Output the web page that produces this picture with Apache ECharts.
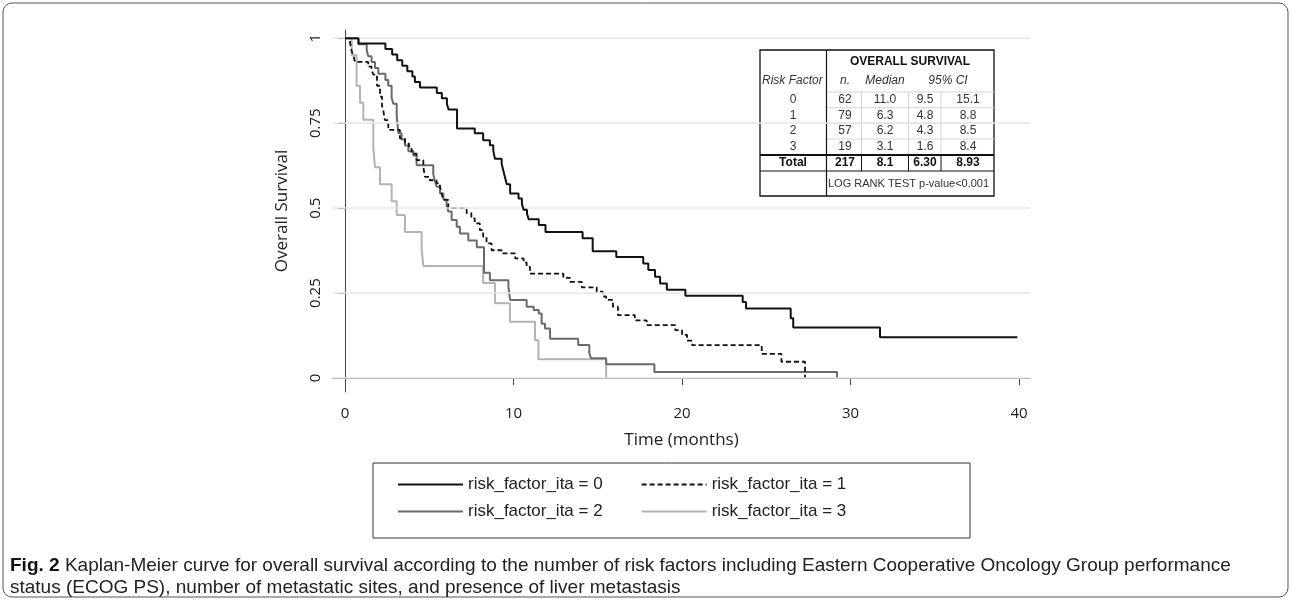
<!doctype html>
<html>
<head>
    <meta charset="UTF-8">
    <title>km_overall_survival</title>
    <script src="https://cdn.jsdelivr.net/npm/echarts@6/dist/echarts.min.js"></script>
    <style>
        html, body { margin: 0; padding: 0; background: #fff; }
        #main { width: 1292px; height: 599px; }
    </style>
</head>
<body>
<div id="main"></div>
<script>
    // axis ticks
    var xTicks = [0, 10, 20, 30, 40];
    var yTicks = [0, 0.25, 0.5, 0.75, 1];

    var seriesNames = ['risk_factor_ita = 0', 'risk_factor_ita = 1', 'risk_factor_ita = 2', 'risk_factor_ita = 3'];

    // [time in months, survival after the step]
    var risk0 = [[0, 1], [0.8, 0.984], [2.4, 0.968], [2.8, 0.952], [3.1, 0.935], [3.4, 0.919], [3.7, 0.903],
        [4.0, 0.887], [4.15, 0.871], [4.45, 0.855], [5.45, 0.839], [5.75, 0.823], [6.05, 0.806], [6.15, 0.79],
        [6.65, 0.734], [7.7, 0.72], [8.2, 0.70], [8.6, 0.685], [8.8, 0.67], [8.9, 0.645], [9.3, 0.63],
        [9.4, 0.61], [9.5, 0.59], [9.6, 0.57], [9.8, 0.543], [10.3, 0.528], [10.5, 0.512], [10.6, 0.495],
        [10.8, 0.484], [10.9, 0.467], [11.5, 0.45], [11.9, 0.43], [14.1, 0.411], [14.7, 0.373], [16.1, 0.356],
        [17.7, 0.337], [18.0, 0.318], [18.4, 0.298], [18.7, 0.278], [19.1, 0.26], [20.2, 0.242], [23.6, 0.224],
        [23.8, 0.205], [26.45, 0.176], [26.6, 0.149], [31.75, 0.12], [39.9, 0.12]];
    var risk1 = [[0, 1], [0.3, 0.987], [0.4, 0.962], [0.5, 0.949], [0.59, 0.93], [1.38, 0.916], [1.58, 0.905],
        [1.68, 0.893], [1.9, 0.86], [2.08, 0.828], [2.2, 0.80], [2.27, 0.788], [2.37, 0.759], [2.57, 0.73],
        [3.26, 0.705], [3.56, 0.69], [3.8, 0.675], [3.96, 0.66], [4.25, 0.641], [4.65, 0.621], [4.75, 0.592],
        [5.04, 0.582], [5.44, 0.573], [5.64, 0.563], [5.75, 0.54], [5.84, 0.524], [6.13, 0.5], [7.22, 0.485],
        [7.5, 0.47], [7.7, 0.455], [8.0, 0.435], [8.2, 0.416], [8.4, 0.396], [8.7, 0.376], [9.3, 0.367],
        [10.1, 0.352], [10.6, 0.34], [10.78, 0.327], [10.98, 0.307], [12.96, 0.295], [13.35, 0.283],
        [14.05, 0.267], [14.94, 0.254], [15.3, 0.24], [15.5, 0.23], [15.9, 0.21], [16.2, 0.185], [17.2, 0.17],
        [17.9, 0.156], [19.6, 0.141], [20.0, 0.127], [20.3, 0.11], [20.6, 0.097], [24.73, 0.071],
        [25.9, 0.048], [27.3, 0.019], [27.3, 0]];
    var risk2 = [[0, 1], [0.8, 0.982], [1.29, 0.965], [1.38, 0.947], [1.58, 0.93], [1.78, 0.912], [1.98, 0.895],
        [2.4, 0.877], [2.57, 0.86], [2.77, 0.825], [2.87, 0.807], [3.07, 0.772], [3.17, 0.72], [3.36, 0.702],
        [3.56, 0.684], [3.76, 0.667], [4.06, 0.655], [4.25, 0.626], [5.24, 0.60], [5.34, 0.58], [5.44, 0.563],
        [5.64, 0.543], [5.84, 0.525], [6.03, 0.509], [6.13, 0.49], [6.33, 0.465], [6.63, 0.445], [6.82, 0.425],
        [7.32, 0.405], [7.82, 0.385], [8.25, 0.31], [8.6, 0.288], [9.7, 0.268], [9.8, 0.23], [10.78, 0.21],
        [11.2, 0.2], [11.5, 0.19], [11.67, 0.16], [11.87, 0.146], [12.17, 0.116], [13.84, 0.097],
        [14.5, 0.073], [14.6, 0.058], [15.5, 0.041], [18.36, 0.018], [29.2, 0.018], [29.2, 0]];
    var risk3 = [[0, 1], [0.4, 0.95], [0.69, 0.86], [0.89, 0.81], [1.09, 0.76], [1.68, 0.68], [1.78, 0.62],
        [2.08, 0.57], [2.77, 0.52], [3.07, 0.48], [3.56, 0.43], [4.55, 0.38], [4.65, 0.33], [8.2, 0.28],
        [8.9, 0.22], [9.79, 0.166], [11.28, 0.111], [11.48, 0.055], [15.5, 0.055], [15.5, 0]];

    // summary table
    var tableTitle = 'OVERALL SURVIVAL';
    var tableHead = ['Risk Factor', 'n.', 'Median', '95% CI'];
    var tableRows = [
        ['0', '62', '11.0', '9.5', '15.1'],
        ['1', '79', '6.3', '4.8', '8.8'],
        ['2', '57', '6.2', '4.3', '8.5'],
        ['3', '19', '3.1', '1.6', '8.4']
    ];
    var tableTotal = ['Total', '217', '8.1', '6.30', '8.93'];
    var logRankText = 'LOG RANK TEST p-value<0.001';

    var captionBold = 'Fig. 2';
    var captionLine1 = 'Kaplan-Meier curve for overall survival according to the number of risk factors including Eastern Cooperative Oncology Group performance';
    var captionLine2 = 'status (ECOG PS), number of metastatic sites, and presence of liver metastasis';

    var myChart = echarts.init(document.getElementById('main'), null, {renderer: 'canvas'});

    // measure text for caption layout
    var mctx = document.createElement('canvas').getContext('2d');
    function textW(str, font) {
        mctx.font = font;
        return mctx.measureText(str).width;
    }
    var capFamily = "'Liberation Sans', Arial, sans-serif";
    var capProbe = textW(captionBold + ' ' + captionLine1, '20px ' + capFamily);
    var capSize = Math.min(19, 20 * 1262 / capProbe);
    var boldW = textW(captionBold + ' ', 'bold ' + capSize + 'px ' + capFamily);

    // table layout
    var tX0 = 760, tX1 = 994, tY0 = 50, tY1 = 196;
    var colSplit = 826.5;
    var innerCols = [861.5, 908.5, 941];
    var colCenters = [793, 845, 885, 925, 968];
    var rowCenters = [100, 115.5, 131, 147];
    var rowLines = [92, 107.7, 123.3, 139];
    var totalTop = 155, totalBottom = 171, totalCenter = 163;
    var tFont = "'Liberation Sans', Arial, sans-serif";

    var tableEls = [];
    tableEls.push({type: 'rect', shape: {x: tX0, y: tY0, width: tX1 - tX0, height: tY1 - tY0},
        style: {fill: '#fff', stroke: '#111', lineWidth: 1.3}});
    rowLines.forEach(function (y) {
        tableEls.push({type: 'line', shape: {x1: colSplit, y1: y, x2: tX1, y2: y}, style: {stroke: '#d4d4d4', lineWidth: 1}});
    });
    innerCols.forEach(function (x) {
        tableEls.push({type: 'line', shape: {x1: x, y1: rowLines[0], x2: x, y2: totalTop}, style: {stroke: '#d4d4d4', lineWidth: 1}});
        tableEls.push({type: 'line', shape: {x1: x, y1: totalTop, x2: x, y2: totalBottom}, style: {stroke: '#111', lineWidth: 1}});
    });
    tableEls.push({type: 'line', shape: {x1: colSplit, y1: tY0, x2: colSplit, y2: tY1}, style: {stroke: '#111', lineWidth: 1.2}});
    tableEls.push({type: 'line', shape: {x1: tX0, y1: totalTop, x2: tX1, y2: totalTop}, style: {stroke: '#111', lineWidth: 2}});
    tableEls.push({type: 'line', shape: {x1: tX0, y1: totalBottom, x2: tX1, y2: totalBottom}, style: {stroke: '#111', lineWidth: 1.2}});

    function tText(str, x, y, opt) {
        opt = opt || {};
        return {type: 'text', x: x, y: y, style: {text: str, fill: opt.fill || '#333',
            font: (opt.style || '') + ' ' + (opt.weight || 'normal') + ' ' + (opt.size || 12) + 'px ' + tFont,
            align: opt.align || 'center', verticalAlign: 'middle'}};
    }
    tableEls.push(tText(tableTitle, 910, 62, {weight: 'bold', fill: '#111', size: 12}));
    tableEls.push(tText(tableHead[0], 762, 81, {style: 'italic', align: 'left'}));
    tableEls.push(tText(tableHead[1], colCenters[1], 81, {style: 'italic'}));
    tableEls.push(tText(tableHead[2], colCenters[2], 81, {style: 'italic'}));
    tableEls.push(tText(tableHead[3], 948, 81, {style: 'italic'}));
    tableRows.forEach(function (row, i) {
        row.forEach(function (v, j) {
            tableEls.push(tText(v, colCenters[j], rowCenters[i]));
        });
    });
    tableTotal.forEach(function (v, j) {
        tableEls.push(tText(v, colCenters[j], totalCenter, {weight: 'bold', fill: '#111'}));
    });
    tableEls.push(tText(logRankText, 828, 183.5, {align: 'left', size: 11}));

    var lineColors = ['#111111', '#111111', '#6a6a6a', '#b3b3b3'];
    var lineTypes = ['solid', [5, 3], 'solid', 'solid'];
    var curves = [risk0, risk1, risk2, risk3];

    var series = [{
        type: 'line', data: [], silent: true, z: 1,
        markLine: {
            silent: true, symbol: 'none', label: {show: false}, animation: false,
            lineStyle: {color: '#e6e6e6', width: 1.5, type: 'solid'},
            data: yTicks.map(function (v) { return {yAxis: v}; })
        }
    }];
    curves.forEach(function (c, i) {
        series.push({
            name: seriesNames[i], type: 'line', step: 'end', data: c, symbol: 'none', showSymbol: false,
            z: 5 - i, animation: false,
            lineStyle: {color: lineColors[i], width: i === 1 ? 1.8 : 2, type: lineTypes[i]},
            itemStyle: {color: lineColors[i]}
        });
    });

    var legendText = {fontFamily: "'Liberation Sans', Arial, sans-serif", fontSize: 17, color: '#222'};
    var legendBase = {
        left: 397, orient: 'horizontal', itemWidth: 65, itemHeight: 14, itemGap: 38, padding: 0,
        selectedMode: false, itemStyle: {opacity: 0}, textStyle: legendText
    };

    var option = {
        animation: false,
        grid: {left: 333, right: 262, top: 30, bottom: 207},
        xAxis: {
            type: 'value', min: -0.71, max: 40.65,
            name: 'Time (months)', nameLocation: 'middle', nameGap: 40,
            nameTextStyle: {fontFamily: 'Open Sans', fontSize: 17, color: '#222'},
            axisLine: {show: true, lineStyle: {color: '#444', width: 1}},
            axisTick: {show: true, length: 7, customValues: xTicks, lineStyle: {color: '#444'}},
            axisLabel: {customValues: xTicks, margin: 14, fontFamily: 'Open Sans', fontSize: 15, color: '#222'},
            splitLine: {show: false}
        },
        yAxis: {
            type: 'value', min: -0.041, max: 1.024,
            name: 'Overall Survival', nameLocation: 'middle', nameGap: 42, nameRotate: 90,
            nameTextStyle: {fontFamily: 'Open Sans', fontSize: 17, color: '#222'},
            axisLine: {show: true, lineStyle: {color: '#444', width: 1}},
            axisTick: {show: true, length: 7, customValues: yTicks, lineStyle: {color: '#444'}},
            axisLabel: {customValues: yTicks, rotate: 90, margin: 10, fontFamily: 'Open Sans', fontSize: 15, color: '#222'},
            splitLine: {show: false}
        },
        legend: [
            Object.assign({}, legendBase, {data: seriesNames.slice(0, 2), top: 476}),
            Object.assign({}, legendBase, {data: seriesNames.slice(2, 4), top: 503})
        ],
        graphic: [
            {type: 'rect', z: -1, shape: {x: 3, y: 3, width: 1285, height: 594, r: 9},
                style: {fill: 'none', stroke: '#555', lineWidth: 1}},
            {type: 'rect', z: 0, shape: {x: 373, y: 463, width: 597, height: 75},
                style: {fill: '#fff', stroke: '#333', lineWidth: 1}},
            {type: 'group', z: 10, children: tableEls},
            {type: 'text', x: 10, y: 566, style: {text: captionBold, font: 'bold ' + capSize + 'px ' + capFamily,
                fill: '#111', verticalAlign: 'middle'}},
            {type: 'text', x: 10 + boldW, y: 566, style: {text: captionLine1, font: capSize + 'px ' + capFamily,
                fill: '#222', verticalAlign: 'middle'}},
            {type: 'text', x: 10, y: 588, style: {text: captionLine2, font: capSize + 'px ' + capFamily,
                fill: '#222', verticalAlign: 'middle'}}
        ],
        series: series
    };

    myChart.setOption(option);
</script>
</body>
</html>
